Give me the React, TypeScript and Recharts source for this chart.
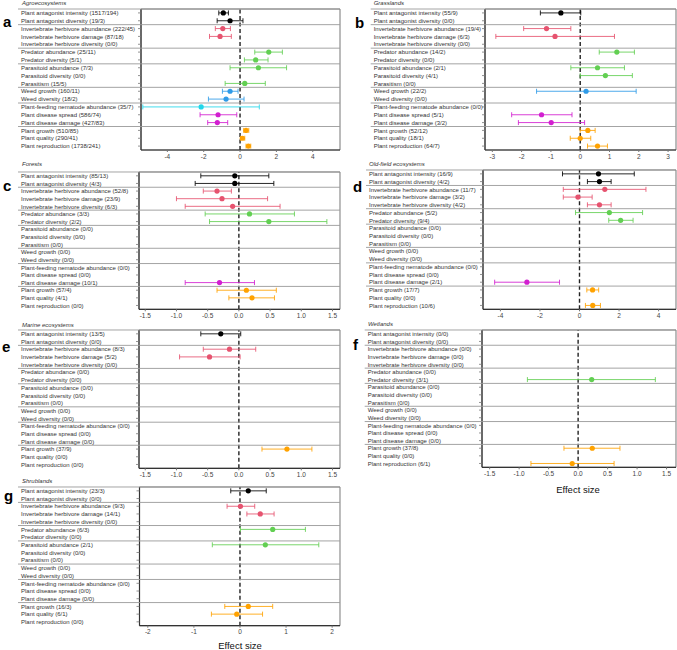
import { ScatterChart, Scatter, XAxis, YAxis, ErrorBar, ReferenceLine, ReferenceArea } from 'recharts'

const FONT = '"Liberation Sans", Arial, sans-serif'

const rowNames = [
  'Plant antagonist intensity', 'Plant antagonist diversity',
  'Invertebrate herbivore abundance', 'Invertebrate herbivore damage', 'Invertebrate herbivore diversity',
  'Predator abundance', 'Predator diversity',
  'Parasitoid abundance', 'Parasitoid diversity', 'Parasitism',
  'Weed growth', 'Weed diversity',
  'Plant-feeding nematode abundance', 'Plant disease spread', 'Plant disease damage',
  'Plant growth', 'Plant quality', 'Plant reproduction',
]

// colour group of every row
const rowGroup = [0, 0, 1, 1, 1, 2, 2, 2, 2, 2, 3, 3, 4, 5, 5, 6, 6, 6]
const groupColors = ['#000000', '#e6536f', '#62cf52', '#2f9be8', '#22d6ea', '#d21fd0', '#ffa200']
const separators = [0.5, 2.5, 5.5, 7.5, 10.5, 12.5, 15.5]

const _ = null

// a: Agroecosystems
const agroCounts = ['1517/194', '19/3', '222/45', '87/18', '0/0', '25/11', '5/1', '7/3', '0/0', '15/5', '160/11', '18/2', '35/7', '586/74', '427/83', '510/85', '290/41', '1738/241']
const agroMean = [-0.92, -0.55, -0.95, -1.1, _, 1.58, 0.86, 1.01, _, 0.26, -0.55, -0.77, -2.14, -1.21, -1.25, 0.33, 0.13, 0.46]
const agroLow = [-1.17, -1.26, -1.36, -1.68, _, 0.81, 0.24, -0.55, _, -0.82, -0.97, -1.74, -5.35, -2.2, -1.78, 0.2, 0.02, 0.33]
const agroHigh = [-0.64, 0.16, -0.53, -0.48, _, 2.33, 1.54, 2.56, _, 1.39, -0.11, 0.22, 1.06, -0.18, -0.68, 0.48, 0.26, 0.59]

// b: Grasslands
const grassCounts = ['55/9', '0/0', '19/4', '6/3', '0/0', '14/2', '0/0', '2/1', '4/1', '0/0', '22/2', '0/0', '0/0', '5/1', '3/2', '52/12', '18/1', '64/7']
const grassMean = [-0.66, _, -1.15, -0.86, _, 1.25, _, 0.59, 0.86, _, 0.2, _, _, -1.32, -0.99, 0.26, 0.0, 0.59]
const grassLow = [-1.36, _, -1.93, -2.88, _, 0.65, _, -0.32, 0.0, _, -1.49, _, _, -2.34, -2.11, 0.0, -0.34, 0.25]
const grassHigh = [0.02, _, -0.32, 1.17, _, 1.85, _, 1.51, 1.78, _, 1.91, _, _, -0.28, 0.15, 0.51, 0.36, 0.93]

// c: Forests
const forestCounts = ['85/13', '4/3', '52/8', '23/9', '6/3', '3/3', '2/2', '0/0', '0/0', '0/0', '0/0', '0/0', '0/0', '0/0', '10/1', '57/4', '4/1', '0/0']
const forestMean = [-0.065, -0.065, -0.35, -0.27, -0.1, 0.17, 0.48, _, _, _, _, _, _, _, -0.31, 0.12, 0.21, _]
const forestLow = [-0.61, -0.7, -0.57, -1.0, -0.86, -0.54, -0.47, _, _, _, _, _, _, _, -0.86, -0.35, -0.16, _]
const forestHigh = [0.48, 0.56, -0.12, 0.46, 0.66, 0.89, 1.41, _, _, _, _, _, _, _, 0.25, 0.6, 0.57, _]

// d: Old-field ecosystems
const oldCounts = ['16/9', '4/2', '11/7', '3/2', '4/2', '5/2', '9/4', '0/0', '0/0', '0/0', '0/0', '0/0', '0/0', '0/0', '2/1', '17/7', '0/0', '10/6']
const oldMean = [0.96, 1.01, 1.28, -0.08, 1.01, 1.51, 2.08, _, _, _, _, _, _, _, -2.66, 0.66, _, 0.67]
const oldLow = [-0.86, 0.4, -0.82, -0.82, 0.4, -0.2, 1.48, _, _, _, _, _, _, _, -4.29, 0.37, _, 0.3]
const oldHigh = [2.77, 1.6, 3.36, 0.64, 1.6, 3.19, 2.71, _, _, _, _, _, _, _, -1.01, 0.97, _, 1.06]

// e: Marine ecosystems
const marineCounts = ['13/5', '0/0', '8/3', '5/2', '0/0', '0/0', '0/0', '0/0', '0/0', '0/0', '0/0', '0/0', '0/0', '0/0', '0/0', '37/9', '0/0', '0/0']
const marineMean = [-0.29, _, -0.15, -0.47, _, _, _, _, _, _, _, _, _, _, _, 0.77, _, _]
const marineLow = [-0.61, _, -0.57, -0.95, _, _, _, _, _, _, _, _, _, _, _, 0.37, _, _]
const marineHigh = [0.03, _, 0.27, 0.02, _, _, _, _, _, _, _, _, _, _, _, 1.17, _, _]

// f: Wetlands
const wetCounts = ['0/0', '0/0', '0/0', '0/0', '0/0', '0/0', '3/1', '0/0', '0/0', '0/0', '0/0', '0/0', '0/0', '0/0', '0/0', '37/8', '0/0', '6/1']
const wetMean = [_, _, _, _, _, _, 0.23, _, _, _, _, _, _, _, _, 0.24, _, -0.1]
const wetLow = [_, _, _, _, _, _, -0.86, _, _, _, _, _, _, _, _, -0.24, _, -0.8]
const wetHigh = [_, _, _, _, _, _, 1.31, _, _, _, _, _, _, _, _, 0.71, _, 0.61]

// g: Shrublands
const shrubCounts = ['23/3', '0/0', '9/3', '14/1', '0/0', '6/3', '0/0', '2/1', '0/0', '0/0', '0/0', '0/0', '0/0', '0/0', '0/0', '16/3', '6/1', '0/0']
const shrubMean = [0.18, _, 0.01, 0.44, _, 0.71, _, 0.55, _, _, _, _, _, _, _, 0.18, -0.07, _]
const shrubLow = [-0.2, _, -0.28, 0.15, _, 0.01, _, -0.6, _, _, _, _, _, _, _, -0.33, -0.62, _]
const shrubHigh = [0.57, _, 0.32, 0.74, _, 1.42, _, 1.71, _, _, _, _, _, _, _, 0.71, 0.49, _]

const halfTicks = [-1.5, -1, -0.5, 0, 0.5, 1, 1.5]

const MT = 2
const XH = 14

type PanelProps = {
  x: number
  width: number
  plotLeft: number
  plotRight: number
  plotTop: number
  plotBottom: number
  labelX: number
  domain: [number, number]
  ticks: number[]
  counts: string[]
  mean: (number | null)[]
  low: (number | null)[]
  high: (number | null)[]
  fmt?: (v: number) => string
}

const Panel = ({ x, width, plotLeft, plotRight, plotTop, plotBottom, labelX, domain, ticks, counts, mean, low, high, fmt }: PanelProps) => {
  const groups = groupColors.map((color, g) => ({
    color,
    points: mean
      .map((m, i) => ({ i, m }))
      .filter(({ i, m }) => rowGroup[i] === g && m !== null)
      .map(({ i, m }) => ({ row: i + 1, mean: m as number, err: [(m as number) - (low[i] as number), (high[i] as number) - (m as number)] })),
  }))

  const yTicks = [...separators, ...rowNames.map((_n, i) => i + 1)]

  const rowTick = (props: any) => {
    const { y, payload } = props
    const v = payload.value
    if (!Number.isInteger(v)) {
      return <line x1={labelX - 3} x2={plotRight} y1={y} y2={y} stroke="#9a9a9a" strokeWidth={0.9} />
    }
    return (
      <g>
        <line x1={plotLeft - 3} x2={plotLeft} y1={y} y2={y} stroke="#777" strokeWidth={0.8} />
        <text x={labelX} y={y} dy={2.2} fontSize={6} fill="#333" fontFamily={FONT}>
          {rowNames[v - 1]} ({counts[v - 1]})
        </text>
      </g>
    )
  }

  return (
    <div style={{ position: 'absolute', left: x, top: plotTop - MT }}>
      <ScatterChart
        width={width}
        height={plotBottom - plotTop + MT + XH}
        margin={{ top: MT, right: width - plotRight, bottom: 0, left: 0 }}
      >
        <XAxis
          type="number"
          dataKey="mean"
          domain={domain}
          ticks={ticks}
          allowDataOverflow
          height={XH}
          tickSize={2}
          tickFormatter={fmt}
          tick={{ fontSize: 6.5, fill: '#444', fontFamily: FONT }}
          axisLine={{ stroke: '#333', strokeWidth: 1.2 }}
          tickLine={{ stroke: '#777' }}
        />
        <YAxis
          type="number"
          dataKey="row"
          domain={[0.5, 18.5]}
          reversed
          ticks={yTicks}
          interval={0}
          width={plotLeft}
          tickLine={false}
          axisLine={{ stroke: '#333', strokeWidth: 1.2 }}
          tick={rowTick}
        />
        <ReferenceArea x1={domain[0]} x2={domain[1]} y1={0.5} y2={18.5} fill="none" stroke="#777" strokeWidth={1} />
        <ReferenceLine x={0} stroke="#222" strokeWidth={1.4} strokeDasharray="4 2.5" />
        {groups.map((g, k) =>
          g.points.length ? (
            <Scatter
              key={k}
              data={g.points}
              fill={g.color}
              isAnimationActive={false}
              shape={(p: any) => <circle cx={p.cx} cy={p.cy} r={2.6} fill={g.color} />}
            >
              <ErrorBar dataKey="err" direction="x" width={2.5} stroke={g.color} strokeWidth={1} strokeOpacity={0.85} />
            </Scatter>
          ) : null
        )}
      </ScatterChart>
    </div>
  )
}

const oneDec = (v: number) => v.toFixed(1)

export default function App() {
  return (
    <div style={{ position: 'absolute', left: 0, top: 0, width: 677, height: 650, background: '#fff', overflow: 'hidden' }}>
      <Panel x={0} width={342} plotLeft={141} plotRight={340} plotTop={9} plotBottom={150} labelX={21}
        domain={[-5.45, 5.5]} ticks={[-4, -2, 0, 2, 4]}
        counts={agroCounts} mean={agroMean} low={agroLow} high={agroHigh} />
      <Panel x={340} width={337} plotLeft={145} plotRight={336} plotTop={9} plotBottom={150} labelX={33.7}
        domain={[-3.25, 3.27]} ticks={[-3, -2, -1, 0, 1, 2, 3]}
        counts={grassCounts} mean={grassMean} low={grassLow} high={grassHigh} />
      <Panel x={0} width={342} plotLeft={139} plotRight={340} plotTop={171.7} plotBottom={309} labelX={21}
        domain={[-1.6, 1.62]} ticks={halfTicks} fmt={oneDec}
        counts={forestCounts} mean={forestMean} low={forestLow} high={forestHigh} />
      <Panel x={340} width={337} plotLeft={143} plotRight={336} plotTop={170} plotBottom={309.3} labelX={29}
        domain={[-4.88, 4.88]} ticks={[-4, -2, 0, 2, 4]}
        counts={oldCounts} mean={oldMean} low={oldLow} high={oldHigh} />
      <Panel x={0} width={342} plotLeft={139} plotRight={340} plotTop={330} plotBottom={468.3} labelX={21}
        domain={[-1.6, 1.62]} ticks={halfTicks} fmt={oneDec}
        counts={marineCounts} mean={marineMean} low={marineLow} high={marineHigh} />
      <Panel x={340} width={337} plotLeft={142} plotRight={336} plotTop={330} plotBottom={467.3} labelX={27.7}
        domain={[-1.63, 1.66]} ticks={halfTicks} fmt={oneDec}
        counts={wetCounts} mean={wetMean} low={wetLow} high={wetHigh} />
      <Panel x={0} width={342} plotLeft={139.5} plotRight={340} plotTop={487} plotBottom={625.7} labelX={21}
        domain={[-2.18, 2.17]} ticks={[-2, -1, 0, 1, 2]}
        counts={shrubCounts} mean={shrubMean} low={shrubLow} high={shrubHigh} />

      <svg width={677} height={650} style={{ position: 'absolute', left: 0, top: 0, pointerEvents: 'none' }} fontFamily={FONT}>
        <g fontSize={15} fontWeight="bold" fill="#000">
          <text x={3} y={26.5}>a</text>
          <text x={355} y={28}>b</text>
          <text x={3} y={191}>c</text>
          <text x={353} y={192}>d</text>
          <text x={2} y={352}>e</text>
          <text x={353} y={350}>f</text>
          <text x={4} y={501}>g</text>
        </g>
        <g fontSize={6} fontStyle="italic" fill="#333">
          <text x={22} y={5}>Agroecosystems</text>
          <text x={373.7} y={5}>Grasslands</text>
          <text x={22} y={166}>Forests</text>
          <text x={369} y={166}>Old-field ecosystems</text>
          <text x={22} y={327}>Marine ecosystems</text>
          <text x={368} y={326}>Wetlands</text>
          <text x={22} y={483}>Shrublands</text>
        </g>
        <g fontSize={9.5} fill="#111" textAnchor="middle">
          <text x={578} y={492.5}>Effect size</text>
          <text x={240} y={649}>Effect size</text>
        </g>
      </svg>
    </div>
  )
}
